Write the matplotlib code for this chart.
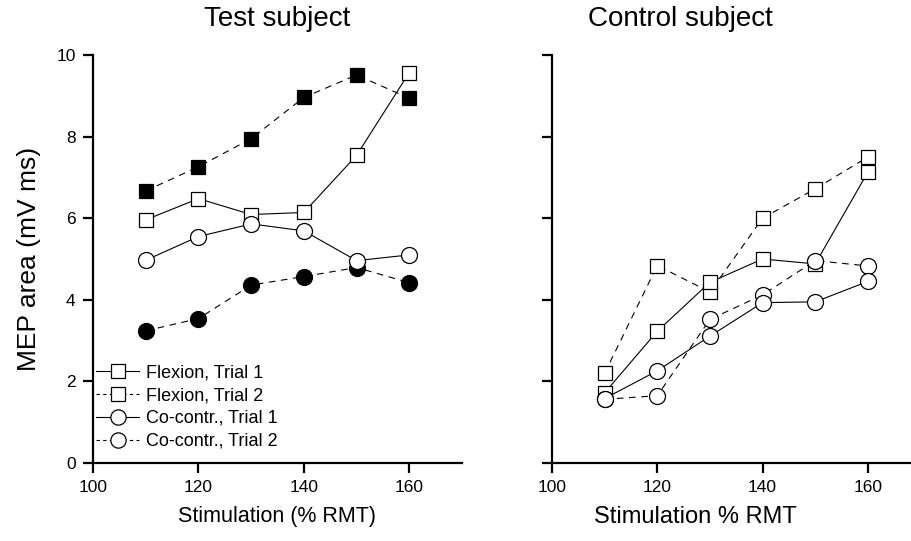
import matplotlib
matplotlib.use("Agg")
import matplotlib.pyplot as plt
from matplotlib.lines import Line2D

plt.rcParams["font.family"] = ["Liberation Sans", "DejaVu Sans"]

stim = [110, 120, 130, 140, 150, 160]

# test subject
test_flex_t1 = [5.96, 6.48, 6.09, 6.14, 7.54, 9.57]
test_flex_t2 = [6.67, 7.26, 7.95, 8.96, 9.51, 8.94]
test_cc_t1 = [4.97, 5.55, 5.86, 5.69, 4.96, 5.10]
test_cc_t2 = [3.24, 3.54, 4.36, 4.57, 4.79, 4.42]

# control subject
ctrl_flex_t1 = [1.72, 3.23, 4.43, 5.00, 4.88, 7.13]
ctrl_flex_t2 = [2.20, 4.84, 4.19, 6.00, 6.72, 7.50]
ctrl_cc_t1 = [1.58, 2.26, 3.11, 3.93, 3.95, 4.45]
ctrl_cc_t2 = [1.56, 1.65, 3.52, 4.12, 4.96, 4.83]

legend_labels = ["Flexion, Trial 1", "Flexion, Trial 2",
                 "Co-contr., Trial 1", "Co-contr., Trial 2"]

DASH = (0, (6, 5))
LW = 0.8

fig = plt.figure(figsize=(9.11, 5.41), dpi=100)
ax1 = fig.add_axes([93 / 911, 78 / 541, 369 / 911, 408 / 541])
ax2 = fig.add_axes([552 / 911, 78 / 541, 358 / 911, 408 / 541])


def series(ax, y, marker, ls, filled, ms):
    ax.plot(stim, y, color="black", lw=LW, linestyle=ls, marker=marker,
            markersize=ms, markerfacecolor="black" if filled else "white",
            markeredgecolor="black", markeredgewidth=0.9, clip_on=False)


series(ax1, test_flex_t2, "s", DASH, True, 10.5)
series(ax1, test_cc_t2, "o", DASH, True, 11.5)
series(ax1, test_flex_t1, "s", "-", False, 10.5)
series(ax1, test_cc_t1, "o", "-", False, 11.5)

series(ax2, ctrl_flex_t2, "s", DASH, False, 10.5)
series(ax2, ctrl_flex_t1, "s", "-", False, 10.5)
series(ax2, ctrl_cc_t2, "o", DASH, False, 11.5)
series(ax2, ctrl_cc_t1, "o", "-", False, 11.5)

for ax, xmax in ((ax1, 170), (ax2, 168)):
    ax.set_xlim(100, xmax)
    ax.set_ylim(0, 10)
    ax.set_xticks([100, 120, 140, 160])
    ax.set_yticks([0, 2, 4, 6, 8, 10])
    for s in ("top", "right"):
        ax.spines[s].set_visible(False)
    for s in ("left", "bottom"):
        ax.spines[s].set_linewidth(1.6)
    ax.tick_params(direction="out", length=7.5, width=1.6, labelsize=12.5,
                   pad=5)

ax2.set_yticklabels([])

ax1.set_ylabel("MEP area (mV ms)", fontsize=19)
ax1.yaxis.set_label_coords(-0.14, 0.5)
ax1.set_xlabel("Stimulation (% RMT)", fontsize=15.5)
ax2.set_xlabel("Stimulation % RMT", fontsize=17)
ax1.xaxis.set_label_coords(0.5, -0.105)
ax2.xaxis.set_label_coords((695 - 552) / 358, -0.105)

fig.text(277 / 911, 1 - 19 / 541, "Test subject", fontsize=20,
         ha="center", va="center")
fig.text(680 / 911, 1 - 19 / 541, "Control subject", fontsize=20,
         ha="center", va="center")

handles = [
    Line2D([], [], color="black", lw=LW, ls="-", marker="s", ms=10,
           mfc="white", mec="black", mew=0.9),
    Line2D([], [], color="black", lw=LW, ls=(0, (3, 3)), marker="s", ms=10,
           mfc="white", mec="black", mew=0.9),
    Line2D([], [], color="black", lw=LW, ls="-", marker="o", ms=11,
           mfc="white", mec="black", mew=0.9),
    Line2D([], [], color="black", lw=LW, ls=(0, (3, 3)), marker="o", ms=11,
           mfc="white", mec="black", mew=0.9),
]
ax1.legend(handles, legend_labels, loc="lower left",
           bbox_to_anchor=(0.008, 0.032), frameon=False, fontsize=13,
           handlelength=2.4, handletextpad=0.35, labelspacing=0.33,
           borderaxespad=0, borderpad=0)

fig.savefig("out.png", dpi=100)
